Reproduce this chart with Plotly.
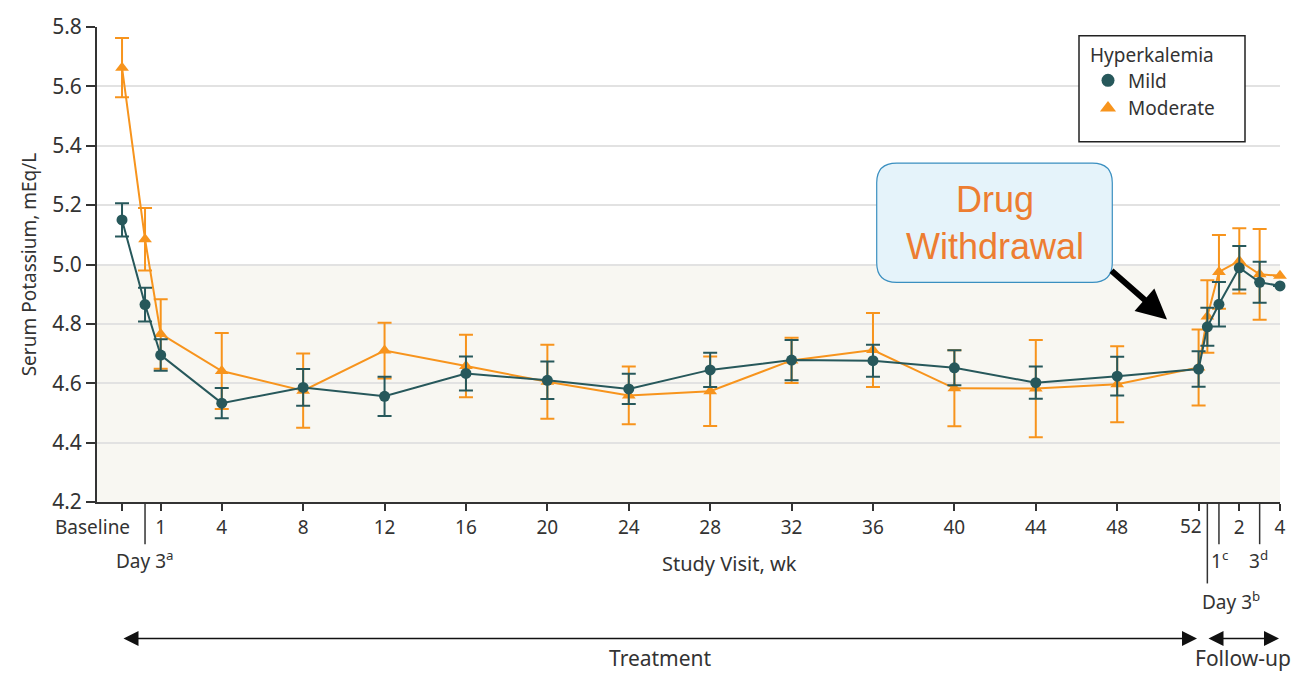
import plotly.graph_objects as go

# Study visits (x position in weeks from start of treatment)
visit_weeks = [-0.9, 0.23, 1, 4, 8, 12, 16, 20, 24, 28, 32, 36, 40, 44, 48, 52,
               52.43, 53, 54, 55, 56]

# Mean serum potassium (mEq/L) and error half-widths
mild_mean = [5.150, 4.865, 4.695, 4.533, 4.586, 4.556, 4.633, 4.610, 4.581, 4.645,
             4.678, 4.676, 4.652, 4.602, 4.624, 4.648, 4.790, 4.866, 4.989, 4.940, 4.928]
mild_err = [0.056, 0.057, 0.053, 0.051, 0.062, 0.066, 0.057, 0.063, 0.051, 0.058,
            0.068, 0.054, 0.059, 0.054, 0.065, 0.060, 0.064, 0.075, 0.073, 0.069, None]

moderate_mean = [5.663, 5.085, 4.766, 4.641, 4.575, 4.710, 4.658, 4.605, 4.559, 4.573,
                 4.677, 4.712, 4.583, 4.582, 4.597, 4.653, 4.825, 4.975, 5.012, 4.967, 4.962]
moderate_err = [0.100, 0.105, 0.117, 0.128, 0.125, 0.094, 0.105, 0.125, 0.097, 0.117,
                0.076, 0.125, 0.128, 0.164, 0.128, 0.128, 0.122, 0.124, 0.110, 0.153, None]

# Axis ticks
tick_weeks = [-0.9, 1, 4, 8, 12, 16, 20, 24, 28, 32, 36, 40, 44, 48, 52, 54, 56]
tick_labels = ["", "1", "4", "8", "12", "16", "20", "24", "28", "32", "36", "40",
               "44", "48", "", "2", "4"]
y_ticks = [4.2, 4.4, 4.6, 4.8, 5.0, 5.2, 5.4, 5.6, 5.8]

TEAL = "#27585b"
ORANGE = "#f7941d"
TEXT = "#333333"
FONT = "Noto Sans"

W, H = 1299, 676
PL, PR, PT, PB = 97, 1280, 18, 502


def fx(px):
    return (px - PL) / (PR - PL)


def fy(py):
    return (PB - py) / (PB - PT)


fig = go.Figure()

# Moderate drawn first so the mild series sits on top
fig.add_trace(go.Scatter(
    x=visit_weeks, y=moderate_mean, mode="lines+markers", name="Moderate",
    line=dict(color=ORANGE, width=2),
    marker=dict(symbol="triangle-up", size=12, color=ORANGE),
    error_y=dict(type="data", array=moderate_err, color=ORANGE, thickness=2, width=7),
    showlegend=False, cliponaxis=False,
))
fig.add_trace(go.Scatter(
    x=visit_weeks, y=mild_mean, mode="lines+markers", name="Mild",
    line=dict(color=TEAL, width=2),
    marker=dict(symbol="circle", size=11, color=TEAL),
    error_y=dict(type="data", array=mild_err, color=TEAL, thickness=2, width=7),
    showlegend=False, cliponaxis=False,
))

# Legend entries (markers only)
fig.add_trace(go.Scatter(x=[None], y=[None], mode="markers", name="Mild",
                         marker=dict(symbol="circle", size=13, color=TEAL), legendrank=1))
fig.add_trace(go.Scatter(x=[None], y=[None], mode="markers", name="Moderate",
                         marker=dict(symbol="triangle-up", size=14, color=ORANGE), legendrank=2))

shapes = [
    # normal-range band
    dict(type="rect", xref="paper", yref="y", x0=0, x1=1, y0=4.2, y1=5.0,
         fillcolor="#f8f7f2", line=dict(width=0), layer="below"),
    # legend frame
    dict(type="rect", xref="paper", yref="paper", x0=fx(1079), x1=fx(1245),
         y0=fy(135), y1=fy(27), fillcolor="white",
         line=dict(color="#222222", width=1.5), layer="above"),
]

# long ticks marking day-3 and follow-up visits
for wk, py in [(0.23, 545), (52.43, 585), (53, 545), (55, 545)]:
    shapes.append(dict(type="line", xref="x", yref="paper", x0=wk, x1=wk,
                       y0=0, y1=fy(py), line=dict(color=TEXT, width=1.5)))

# rounded callout box
L, R, T, B, r = 876.7, 1112.3, 156.7, 278.3, 20


def P(px, py):
    return f"{fx(px):.5f},{fy(py):.5f}"


box_path = (f"M {P(L + r, T)} L {P(R - r, T)} Q {P(R, T)} {P(R, T + r)} "
            f"L {P(R, B - r)} Q {P(R, B)} {P(R - r, B)} L {P(L + r, B)} "
            f"Q {P(L, B)} {P(L, B - r)} L {P(L, T + r)} Q {P(L, T)} {P(L + r, T)} Z")
shapes.append(dict(type="path", xref="paper", yref="paper", path=box_path,
                   fillcolor="#e5f3fa", line=dict(color="#3a8fc0", width=1.2),
                   layer="above"))

tfont = dict(family=FONT, size=19, color=TEXT)
annotations = [
    dict(text="Baseline", xref="paper", yref="paper", x=fx(132), y=fy(527),
         xanchor="right", yanchor="middle", showarrow=False, font=tfont),
    dict(text="52", xref="paper", yref="paper", x=fx(1204), y=fy(526),
         xanchor="right", yanchor="middle", showarrow=False, font=tfont),
    dict(text="Day 3<sup>a</sup>", xref="paper", yref="paper", x=fx(114), y=fy(561),
         xanchor="left", yanchor="middle", showarrow=False, font=tfont),
    dict(text="1<sup>c</sup>", xref="paper", yref="paper", x=fx(1209), y=fy(561),
         xanchor="left", yanchor="middle", showarrow=False, font=tfont),
    dict(text="3<sup>d</sup>", xref="paper", yref="paper", x=fx(1247), y=fy(561),
         xanchor="left", yanchor="middle", showarrow=False, font=tfont),
    dict(text="Day 3<sup>b</sup>", xref="paper", yref="paper", x=fx(1200), y=fy(603),
         xanchor="left", yanchor="middle", showarrow=False, font=tfont),
    dict(text="Study Visit, wk", xref="paper", yref="paper", x=fx(729), y=fy(565),
         xanchor="center", yanchor="middle", showarrow=False,
         font=dict(family=FONT, size=20, color=TEXT)),
    dict(text="Treatment", xref="paper", yref="paper", x=fx(660), y=fy(661),
         xanchor="center", yanchor="middle", showarrow=False,
         font=dict(family=FONT, size=21, color=TEXT)),
    dict(text="Follow-up", xref="paper", yref="paper", x=fx(1243), y=fy(661),
         xanchor="center", yanchor="middle", showarrow=False,
         font=dict(family=FONT, size=21, color=TEXT)),
    # period arrows
    dict(text="", xref="paper", yref="paper", x=fx(1197), y=fy(641), ax=-(1197 - 122), ay=0,
         showarrow=True, arrowside="end+start", arrowhead=2, arrowsize=2, arrowwidth=1.5,
         arrowcolor="#111111", standoff=0, startstandoff=0),
    dict(text="", xref="paper", yref="paper", x=fx(1279), y=fy(641), ax=-(1279 - 1207), ay=0,
         showarrow=True, arrowside="end+start", arrowhead=2, arrowsize=2, arrowwidth=1.5,
         arrowcolor="#111111", standoff=0, startstandoff=0),
    # callout text and pointer
    dict(text="Drug<br>Withdrawal", xref="paper", yref="paper", x=fx(994.5), y=fy(217.5),
         xanchor="center", yanchor="middle", showarrow=False,
         font=dict(family="Liberation Sans", size=36, color="#ed7d31")),
    dict(text="", xref="paper", yref="paper", x=fx(1167), y=fy(316), ax=-57, ay=-50,
         showarrow=True, arrowhead=2, arrowsize=1.0, arrowwidth=6, arrowcolor="#000000",
         standoff=0),
]

fig.update_layout(
    width=W, height=H,
    margin=dict(l=PL, r=W - PR, t=PT, b=H - PB),
    paper_bgcolor="white", plot_bgcolor="white",
    font=dict(family=FONT, size=19, color=TEXT),
    shapes=shapes, annotations=annotations,
    legend=dict(
        title=dict(text="Hyperkalemia", font=dict(family=FONT, size=19, color=TEXT)),
        x=fx(1088), y=fy(28), xanchor="left", yanchor="top",
        borderwidth=0, bgcolor="rgba(0,0,0,0)",
        font=dict(family=FONT, size=19, color=TEXT),
        itemwidth=30, tracegroupgap=0,
    ),
    xaxis=dict(
        range=[-2.13, 56], showgrid=False, zeroline=False,
        showline=True, linecolor=TEXT, linewidth=1.5,
        tickmode="array", tickvals=tick_weeks, ticktext=tick_labels,
        ticks="outside", ticklen=7, tickwidth=1.5, tickcolor=TEXT,
        tickfont=dict(family=FONT, size=19, color=TEXT),
    ),
    yaxis=dict(
        range=[4.2, 5.8], tickmode="array", tickvals=y_ticks,
        ticktext=[f"{v:.1f}" for v in y_ticks],
        showgrid=True, gridcolor="#e2e2e2", gridwidth=1.5, zeroline=False,
        showline=True, linecolor=TEXT, linewidth=2,
        ticks="outside", ticklen=9, tickwidth=1.5, tickcolor=TEXT,
        tickfont=dict(family=FONT, size=21, color=TEXT),
        title=dict(text="Serum Potassium, mEq/L", font=dict(family=FONT, size=19, color=TEXT),
                   standoff=10),
    ),
)

fig.write_html("out.html")
